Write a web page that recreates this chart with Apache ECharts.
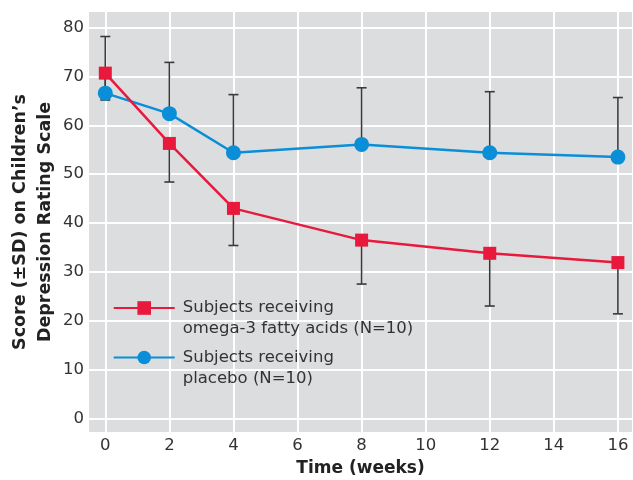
<!DOCTYPE html>
<html><head><meta charset="utf-8">
<script src="https://cdn.jsdelivr.net/npm/echarts@6/dist/echarts.min.js"></script>
<style>html,body{margin:0;padding:0;background:#fff}#c{width:633px;height:480px}</style>
</head><body><div id="c"></div>
<script>
const weeks = [0, 2, 4, 8, 12, 16];
const omega3 = [70.7, 56.3, 43.0, 36.5, 33.8, 31.9];
const omega3Low = [65.2, 48.4, 35.4, 27.5, 23.0, 21.4];
const placebo = [66.6, 62.4, 54.4, 56.1, 54.4, 53.5];
const placeboHigh = [78.2, 72.9, 66.3, 67.7, 66.9, 65.7];
const xTicks = [0, 2, 4, 6, 8, 10, 12, 14, 16];
const yTicks = [0, 10, 20, 30, 40, 50, 60, 70, 80];
const nameOmega = 'Subjects receiving\nomega-3 fatty acids (N=10)';
const namePlacebo = 'Subjects receiving\nplacebo (N=10)';

const RED = '#e8193c', BLUE = '#0a8ed8', FONT = 'DejaVu Sans';

function errRender(params, api) {
  const x = api.value(0), m = api.value(1), e = api.value(2);
  const p1 = api.coord([x, m]), p2 = api.coord([x, e]);
  const cap = 5;
  const style = { stroke: '#3a3a3a', lineWidth: 1.6 };
  return { type: 'group', children: [
    { type: 'line', shape: { x1: p1[0], y1: p1[1], x2: p2[0], y2: p2[1] }, style: style },
    { type: 'line', shape: { x1: p2[0] - cap, y1: p2[1], x2: p2[0] + cap, y2: p2[1] }, style: style }
  ]};
}

const legendText = { fontSize: 16.5, lineHeight: 21, color: '#333', fontFamily: FONT, padding: [0, 0, 0, 3] };
const chart = echarts.init(document.getElementById('c'));
chart.setOption({
  animation: false,
  textStyle: { fontFamily: FONT },
  grid: { left: 89, top: 12, right: 1, bottom: 48, show: true, backgroundColor: '#dcdddf', borderWidth: 0,
          containLabel: false, outerBoundsMode: 'none' },
  xAxis: {
    type: 'value', min: -0.509, max: 16.44,
    axisLine: { show: false },
    axisTick: { show: false, customValues: xTicks },
    axisLabel: { customValues: xTicks, fontSize: 16.5, color: '#333', margin: 5, fontFamily: FONT },
    splitLine: { show: true, lineStyle: { color: '#ffffff', width: 2 } },
    name: 'Time (weeks)', nameLocation: 'middle', nameGap: 28, nameMoveOverlap: false,
    nameTextStyle: { fontWeight: 'bold', fontSize: 17, color: '#222', fontFamily: FONT }
  },
  yAxis: {
    type: 'value', min: -2.8, max: 83.22,
    axisLine: { show: false },
    axisTick: { show: false, customValues: yTicks },
    axisLabel: { customValues: yTicks, fontSize: 16.5, color: '#333', margin: 5, fontFamily: FONT },
    splitLine: { show: true, lineStyle: { color: '#ffffff', width: 2 } },
    name: 'Score (±SD) on Children’s\nDepression Rating Scale', nameLocation: 'middle', nameGap: 31.5, nameRotate: 90,
    nameMoveOverlap: false,
    nameTextStyle: { fontWeight: 'bold', fontSize: 17.5, lineHeight: 25, color: '#222', fontFamily: FONT }
  },
  legend: [
    { data: [nameOmega], left: 107.7, top: 271.5, orient: 'vertical', itemWidth: 61, itemHeight: 17, selectedMode: false,
      formatter: n => '\u00a0\n' + n, textStyle: legendText },
    { data: [namePlacebo], left: 107.7, top: 321, orient: 'vertical', itemWidth: 61, itemHeight: 17, selectedMode: false,
      formatter: n => '\u00a0\n' + n, textStyle: legendText }
  ],
  series: [
    { type: 'custom', renderItem: errRender, z: 1, silent: true,
      data: weeks.map((w, i) => [w, omega3[i], omega3Low[i]]) },
    { type: 'custom', renderItem: errRender, z: 1, silent: true,
      data: weeks.map((w, i) => [w, placebo[i], placeboHigh[i]]) },
    { name: namePlacebo, type: 'line', z: 3, symbol: 'circle', symbolSize: 15,
      lineStyle: { color: BLUE, width: 2.5 }, itemStyle: { color: BLUE },
      data: weeks.map((w, i) => [w, placebo[i]]) },
    { name: nameOmega, type: 'line', z: 4, symbol: 'rect', symbolSize: 13,
      lineStyle: { color: RED, width: 2.5 }, itemStyle: { color: RED },
      data: weeks.map((w, i) => [w, omega3[i]]) }
  ]
});
</script></body></html>
